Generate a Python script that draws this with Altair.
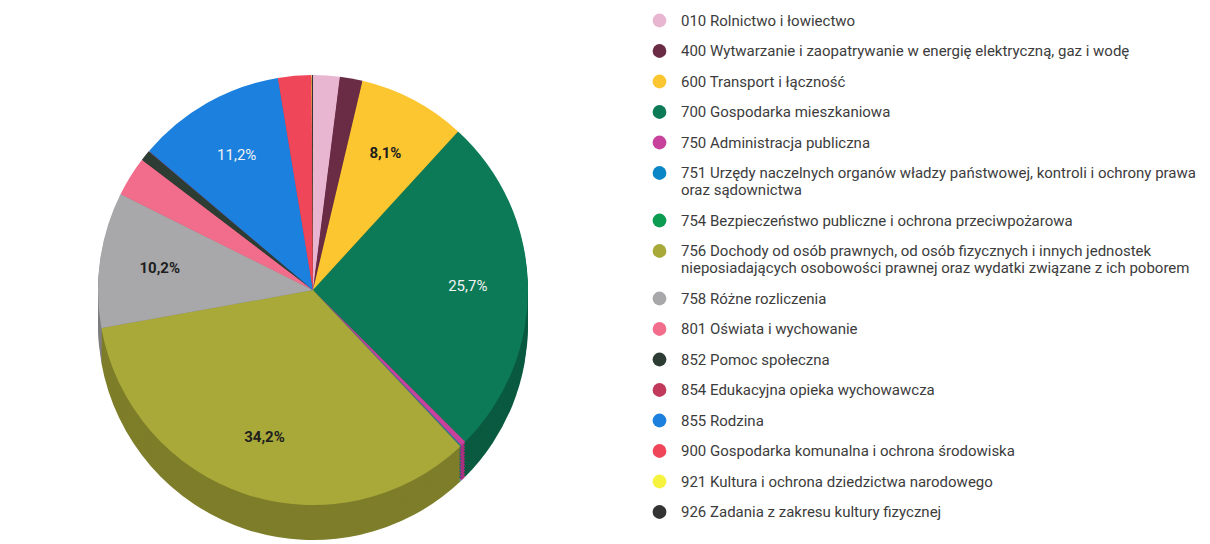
import altair as alt
import pandas as pd

codes = ["010", "400", "600", "700", "750", "751", "754", "756",
         "758", "801", "852", "854", "855", "900", "921", "926"]
names = [
    "010 Rolnictwo i łowiectwo",
    "400 Wytwarzanie i zaopatrywanie w energię elektryczną, gaz i wodę",
    "600 Transport i łączność",
    "700 Gospodarka mieszkaniowa",
    "750 Administracja publiczna",
    "751 Urzędy naczelnych organów władzy państwowej, kontroli i ochrony prawa|oraz sądownictwa",
    "754 Bezpieczeństwo publiczne i ochrona przeciwpożarowa",
    "756 Dochody od osób prawnych, od osób fizycznych i innych jednostek|nieposiadających osobowości prawnej oraz wydatki związane z ich poborem",
    "758 Różne rozliczenia",
    "801 Oświata i wychowanie",
    "852 Pomoc społeczna",
    "854 Edukacyjna opieka wychowawcza",
    "855 Rodzina",
    "900 Gospodarka komunalna i ochrona środowiska",
    "921 Kultura i ochrona dziedzictwa narodowego",
    "926 Zadania z zakresu kultury fizycznej",
]
values = [2.0, 1.7, 8.1, 25.7, 0.4, 0.05, 0.05, 34.2,
          10.2, 3.0, 0.8, 0.04, 11.2, 2.5, 0.03, 0.08]
labels_bold = ["", "", "8,1%", "", "", "", "", "34,2%",
               "10,2%", "", "", "", "", "", "", ""]
labels_light = ["", "", "", "25,7%", "", "", "", "",
                "", "", "", "", "11,2%", "", "", ""]

colors = ["#e9b6d2", "#6a2b45", "#fcc630", "#0c7a56", "#c8429c", "#0a86c6",
          "#0b9c52", "#a9a93a", "#a8a8aa", "#f26c8c", "#2e3d33", "#c13a5c",
          "#1c80de", "#f0465a", "#f6f33e", "#333333"]
side_colors = ["#b98ea6", "#4e1f33", "#c99c22", "#0a5a40", "#a8307e", "#08689c",
               "#087a40", "#7e7e2a", "#7e7e80", "#c2546e", "#222d26", "#962c46",
               "#1562ad", "#bd3446", "#c4c230", "#262626"]

df = pd.DataFrame({
    "code": codes,
    "name": names,
    "value": values,
    "side": side_colors,
    "lab_b": labels_bold,
    "lab_l": labels_light,
})
df["idx"] = list(range(len(df)))

CX, CY, R, DEPTH = 308, 285, 215, 35

base = alt.Chart(df)
theta = alt.Theta("value:Q", stack=True)
order = alt.Order("idx:Q")

layers = []
for d in range(DEPTH, 0, -3):
    layers.append(
        base.mark_arc(radius=R, yOffset=d).encode(
            theta=theta, order=order,
            color=alt.Color("side:N", scale=None),
            x=alt.value(CX), y=alt.value(CY),
        )
    )

top = base.mark_arc(radius=R).encode(
    theta=theta, order=order,
    color=alt.Color(
        "name:N",
        sort=names,
        scale=alt.Scale(domain=names, range=colors),
        legend=alt.Legend(
            title=None, orient="none", legendX=647, legendY=8,
            symbolType="circle", symbolSize=190, symbolStrokeWidth=0,
            labelFont="Roboto", labelFontSize=15, labelColor="#3c3c3c",
            labelLimit=800, labelOffset=14, rowPadding=14.5, padding=0,
            labelExpr="split(datum.label, '|')",
        ),
    ),
    x=alt.value(CX), y=alt.value(CY),
)
layers.append(top)

txt_b = base.mark_text(radius=R * 0.72, font="Roboto", fontSize=15,
                       fontWeight="bold", color="#1e1e1e").encode(
    theta=theta, order=order, text="lab_b:N",
    x=alt.value(CX), y=alt.value(CY),
)
txt_l = base.mark_text(radius=R * 0.72, font="Roboto", fontSize=15,
                       color="#f2f2f2").encode(
    theta=theta, order=order, text="lab_l:N",
    x=alt.value(CX), y=alt.value(CY),
)
layers += [txt_b, txt_l]

chart = alt.layer(*layers).properties(
    width=620, height=530, background="white"
).configure_view(stroke=None)

chart.save("out.html", embed_options={"renderer": "svg", "actions": False})
